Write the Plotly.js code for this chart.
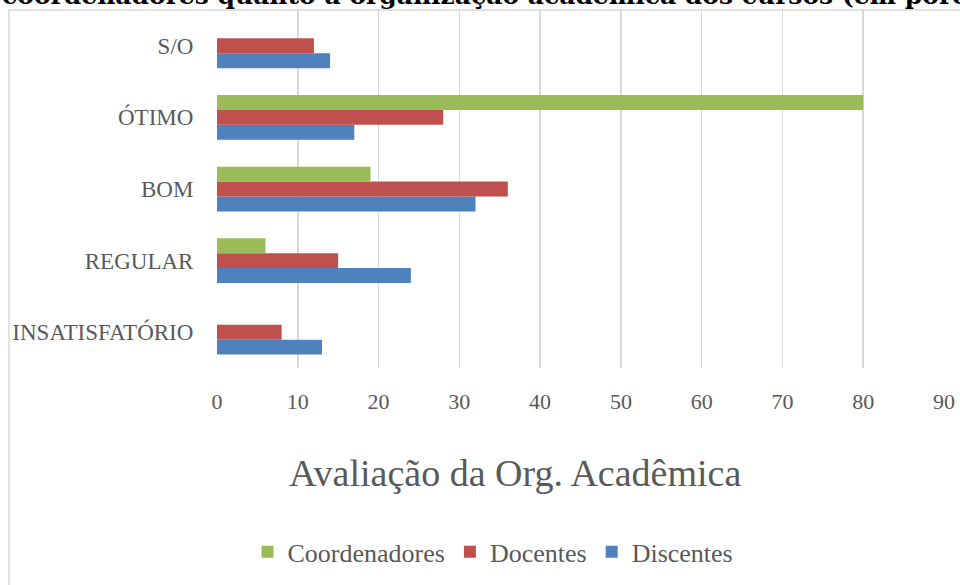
<!DOCTYPE html>
<html>
<head>
<meta charset="utf-8">
<script src="https://cdn.plot.ly/plotly-3.0.1.min.js"></script>
<style>html,body{margin:0;padding:0;background:#fff;}#chart{width:960px;height:585px;}</style>
</head>
<body>
<div id="chart"></div>
<script>
// Data (percentages)
const categories = ["INSATISFATÓRIO", "REGULAR", "BOM", "ÓTIMO", "S/O"];
const discentes = [13, 24, 32, 17, 14];
const docentes = [8, 15, 36, 28, 12];
const coordenadores = [0, 6, 19, 80, 0];
const seriesNames = ["Discentes", "Docentes", "Coordenadores"];
const xTicks = [0, 10, 20, 30, 40, 50, 60, 70, 80, 90];
const headText = "coordenadores quanto à organização acadêmica dos cursos (em porcentagem)";
const axisTitleText = "Avaliação da Org. Acadêmica";

const W = 960, H = 585;
const L = 217, R = 16, T = 10, B = 215;
const pw = W - L - R, ph = H - T - B;
const px2x = p => (p - L) / pw;
const py2y = p => (H - B - p) / ph;

const font = "Liberation Serif, Times New Roman, serif";
const grey = "#595959";

const colors = ["#4F81BD", "#C0504D", "#9BBB59"];
const values = [discentes, docentes, coordenadores];

const data = values.map((v, i) => ({
  type: "bar",
  orientation: "h",
  name: seriesNames[i],
  y: categories,
  x: v,
  marker: {color: colors[i]},
  hoverinfo: "x+name"
}));

const layout = {
  width: W, height: H,
  margin: {l: L, r: R, t: T, b: B, pad: 0},
  paper_bgcolor: "#fff",
  plot_bgcolor: "#fff",
  barmode: "group",
  bargap: 0.375,
  bargroupgap: 0,
  font: {family: font, color: grey},
  showlegend: true,
  legend: {
    orientation: "h",
    traceorder: "reversed",
    x: px2x(493), xanchor: "center",
    y: py2y(555), yanchor: "middle",
    font: {family: font, size: 26, color: grey},
    itemwidth: 30
  },
  xaxis: {
    range: [0, 90],
    tickvals: xTicks,
    ticktext: xTicks.map(String),
    showgrid: true,
    gridcolor: "#d9d9d9",
    gridwidth: 1.5,
    zeroline: false,
    showline: false,
    ticks: "outside",
    ticklen: 14,
    tickcolor: "rgba(0,0,0,0)",
    tickfont: {family: font, size: 22, color: grey},
    fixedrange: true
  },
  yaxis: {
    type: "category",
    categoryorder: "array",
    categoryarray: categories,
    showgrid: false,
    zeroline: false,
    showline: false,
    ticks: "outside",
    ticklen: 18,
    tickcolor: "rgba(0,0,0,0)",
    tickfont: {family: font, size: 23, color: grey},
    fixedrange: true
  },
  shapes: [{
    type: "rect", xref: "paper", yref: "paper",
    x0: px2x(9), x1: px2x(1021), y0: py2y(10), y1: py2y(620),
    line: {color: "#d9d9d9", width: 1.5},
    fillcolor: "rgba(0,0,0,0)",
    layer: "below"
  }],
  annotations: [
    {
      text: axisTitleText,
      xref: "paper", yref: "paper",
      x: px2x(515), y: py2y(476),
      xanchor: "center", yanchor: "middle",
      showarrow: false,
      font: {family: font, size: 38, color: grey}
    },
    {
      text: "<b>" + headText + "</b>",
      xref: "paper", yref: "paper",
      x: px2x(0), y: py2y(12),
      xanchor: "left", yanchor: "bottom",
      showarrow: false,
      font: {family: "DejaVu Serif, serif", size: 25, color: "#000"}
    }
  ]
};

Plotly.newPlot("chart", data, layout, {displayModeBar: false, staticPlot: true});
</script>
</body>
</html>
